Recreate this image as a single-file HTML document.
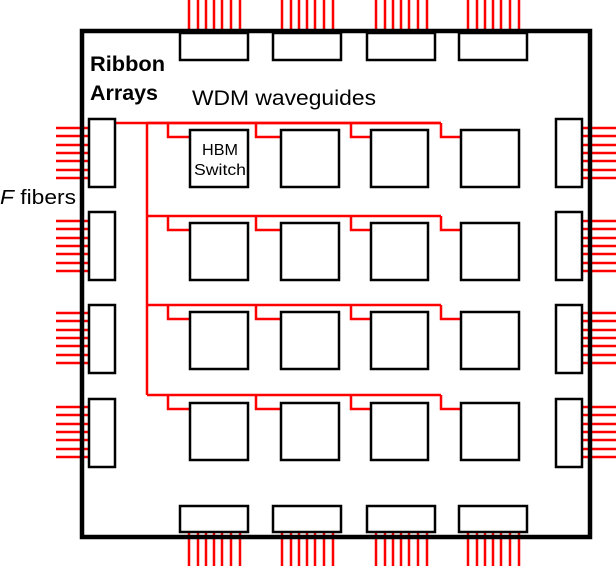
<!DOCTYPE html>
<html><head><style>
html,body{margin:0;padding:0;background:#fff;}
svg{display:block;}
text{font-family:"Liberation Sans",sans-serif;fill:#000;}
</style></head><body>
<svg width="616" height="566" viewBox="0 0 616 566" xmlns="http://www.w3.org/2000/svg">
<g stroke="#f00" stroke-width="2.5" fill="none">
<g id="tf"><path d="M189 0V33M198 0V33M206 0V33M214 0V33M222 0V33M231 0V33M240 0V33"/></g>
<use href="#tf" x="93"/><use href="#tf" x="187"/><use href="#tf" x="279"/>
<g id="bf"><path d="M189 532V566M198 532V566M206 532V566M214 532V566M222 532V566M231 532V566M240 532V566"/></g>
<use href="#bf" x="93"/><use href="#bf" x="187"/><use href="#bf" x="279"/>
<g id="lf"><path d="M56 128H89M56 136H89M56 145H89M56 153H89M56 161H89M56 170H89M56 178H89"/></g>
<use href="#lf" y="93"/><use href="#lf" y="185"/><use href="#lf" y="279"/>
<g id="rf"><path d="M582 128H616M582 136H616M582 145H616M582 153H616M582 161H616M582 170H616M582 178H616"/></g>
<use href="#rf" y="93"/><use href="#rf" y="185"/><use href="#rf" y="279"/>
<path d="M115 123H441M147 123V395"/>
<g id="row"><path d="M147 123H441M168 123V137H190M256 123V137H281M351 123V137H371M441 123V137H461"/></g>
<use href="#row" y="93"/><use href="#row" y="182"/><use href="#row" y="272"/>
</g>
<g fill="#fff" stroke="#000" stroke-width="2.5">
<rect x="82" y="31" width="508" height="506" stroke-width="4.5" fill="none"/>
<rect x="180" y="33" width="68" height="27"/><rect x="273" y="33" width="68" height="27"/><rect x="367" y="33" width="68" height="27"/><rect x="459" y="33" width="68" height="27"/>
<rect x="180" y="506" width="68" height="26"/><rect x="273" y="506" width="68" height="26"/><rect x="367" y="506" width="68" height="26"/><rect x="459" y="506" width="68" height="26"/>
<rect x="89" y="119" width="26" height="68"/><rect x="89" y="212" width="26" height="68"/><rect x="89" y="305" width="26" height="68"/><rect x="89" y="399" width="26" height="68"/>
<rect x="556" y="119" width="26" height="68"/><rect x="556" y="212" width="26" height="68"/><rect x="556" y="305" width="26" height="68"/><rect x="556" y="399" width="26" height="68"/>
<g id="sw"><rect x="190" y="130" width="58" height="57"/><rect x="281" y="130" width="58" height="57"/><rect x="371" y="130" width="57" height="57"/><rect x="461" y="130" width="58" height="57"/></g>
<use href="#sw" y="93"/><use href="#sw" y="182"/><use href="#sw" y="273"/>
</g>
<text x="90" y="71" font-size="21" font-weight="bold" textLength="75" lengthAdjust="spacingAndGlyphs">Ribbon</text>
<text x="90" y="100" font-size="21" font-weight="bold" textLength="68" lengthAdjust="spacingAndGlyphs">Arrays</text>
<text x="192" y="105" font-size="21" textLength="184" lengthAdjust="spacingAndGlyphs">WDM waveguides</text>
<text x="0" y="204" font-size="20" textLength="76" lengthAdjust="spacingAndGlyphs"><tspan font-style="italic">F</tspan> fibers</text>
<text x="202" y="155" font-size="16" textLength="36" lengthAdjust="spacingAndGlyphs">HBM</text>
<text x="194" y="175" font-size="16" textLength="52" lengthAdjust="spacingAndGlyphs">Switch</text>
</svg>
</body></html>
